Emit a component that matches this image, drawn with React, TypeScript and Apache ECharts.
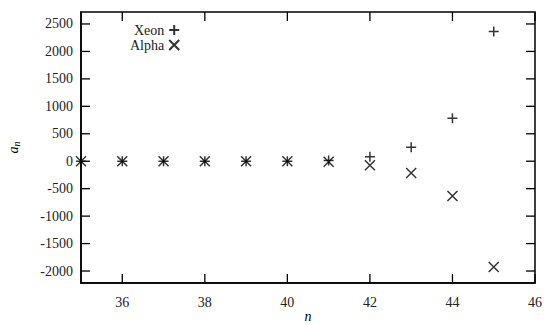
import React, { useEffect, useRef } from "react";
import * as echarts from "echarts";

const nValues = [35, 36, 37, 38, 39, 40, 41, 42, 43, 44, 45];
const xeon = [0, 0, 0, 0, 0, 0, 15, 80, 255, 785, 2365];
const alpha = [0, 0, 0, 0, 0, 0, -10, -75, -215, -635, -1925];
const xTicks = [36, 38, 40, 42, 44, 46];
const yTicks = [-2000, -1500, -1000, -500, 0, 500, 1000, 1500, 2000, 2500];

const X_MIN = 35;
const X_MAX = 46;
const Y_MIN = -2218;
const Y_MAX = 2718;

const plusPath = "path://M0,5L10,5M5,0L5,10";
const crossPath = "path://M0,0L10,10M10,0L0,10";

const FONT = "Liberation Serif";
const TL = 9;

export default function App() {
  const ref = useRef<HTMLDivElement>(null);
  useEffect(() => {
    const chart = echarts.init(ref.current!, null, { renderer: "svg" });
    const line = { show: true, onZero: false, lineStyle: { color: "#000", width: 1.5 } };
    chart.setOption({
      animation: false,
      grid: {
        left: 81,
        right: 12,
        top: 12,
        bottom: 42,
        show: true,
        borderColor: "#000",
        borderWidth: 1.5,
        outerBoundsMode: "none",
        containLabel: false,
      },
      xAxis: {
        type: "value",
        min: X_MIN,
        max: X_MAX,
        splitLine: { show: false },
        axisLine: line,
        axisTick: { show: false },
        position: "bottom",
        name: "n",
        nameLocation: "middle",
        nameGap: 26,
        nameMoveOverlap: false,
        nameTextStyle: { fontFamily: FONT, fontStyle: "italic", fontSize: 14, color: "#000" },
        axisLabel: { customValues: xTicks, fontFamily: FONT, fontSize: 14, color: "#222", margin: 12, formatter: (v: number) => String(v) },
      },
      yAxis: {
        type: "value",
        min: Y_MIN,
        max: Y_MAX,
        splitLine: { show: false },
        axisLine: line,
        axisTick: { show: false },
        position: "left",
        name: "{a|a}{s|n}",
        nameLocation: "middle",
        nameGap: 60,
        nameMoveOverlap: false,
        nameRotate: 90,
        nameTextStyle: {
          fontFamily: FONT,
          color: "#000",
          rich: {
            a: { fontFamily: FONT, fontStyle: "italic", fontSize: 14, color: "#000" },
            s: { fontFamily: FONT, fontStyle: "italic", fontSize: 10, color: "#000", verticalAlign: "bottom", padding: [6, 0, 0, 0] },
          },
        },
        axisLabel: { customValues: yTicks, fontFamily: FONT, fontSize: 14, color: "#222", margin: 8, formatter: (v: number) => String(v) },
      },
      legend: {
        orient: "vertical",
        left: 130,
        top: 23,
        align: "right",
        itemWidth: 10,
        itemHeight: 10,
        itemGap: 1,
        padding: 0,
        textStyle: { fontFamily: FONT, fontSize: 14, lineHeight: 14, color: "#222" },
        data: ["Xeon", "Alpha"],
      },
      series: [
        {
          name: "Xeon",
          type: "scatter",
          symbol: plusPath,
          symbolSize: 10,
          itemStyle: { color: "transparent", borderColor: "#000", borderWidth: 1.5 },
          z: 3,
          data: nValues.map((n, i) => [n, xeon[i]]),
        },
        {
          name: "Alpha",
          type: "scatter",
          symbol: crossPath,
          symbolSize: 10,
          itemStyle: { color: "transparent", borderColor: "#000", borderWidth: 1.5 },
          z: 3,
          data: nValues.map((n, i) => [n, alpha[i]]),
        },
      ],
    });

    // Inward tick marks on all four sides, placed through the chart's own scales.
    const px = (x: number, y: number) => chart.convertToPixel({ gridIndex: 0 }, [x, y]) as number[];
    const tickLines: any[] = [];
    const addTick = (x: number, y: number, dx: number, dy: number) => {
      const p = px(x, y);
      if (!p || isNaN(p[0]) || isNaN(p[1])) return;
      tickLines.push({
        type: "line",
        silent: true,
        z: 10,
        shape: { x1: p[0], y1: p[1], x2: p[0] + dx, y2: p[1] + dy },
        style: { stroke: "#000", lineWidth: 1.3 },
      });
    };
    yTicks.forEach((v) => {
      addTick(X_MIN, v, TL, 0);
      addTick(X_MAX, v, -TL, 0);
    });
    xTicks.forEach((v) => {
      addTick(v, Y_MIN, 0, -TL);
      addTick(v, Y_MAX, 0, TL);
    });
    chart.setOption({ graphic: tickLines });

    return () => chart.dispose();
  }, []);
  return <div ref={ref} style={{ width: 547, height: 325, position: "absolute", left: 0, top: 0 }} />;
}
